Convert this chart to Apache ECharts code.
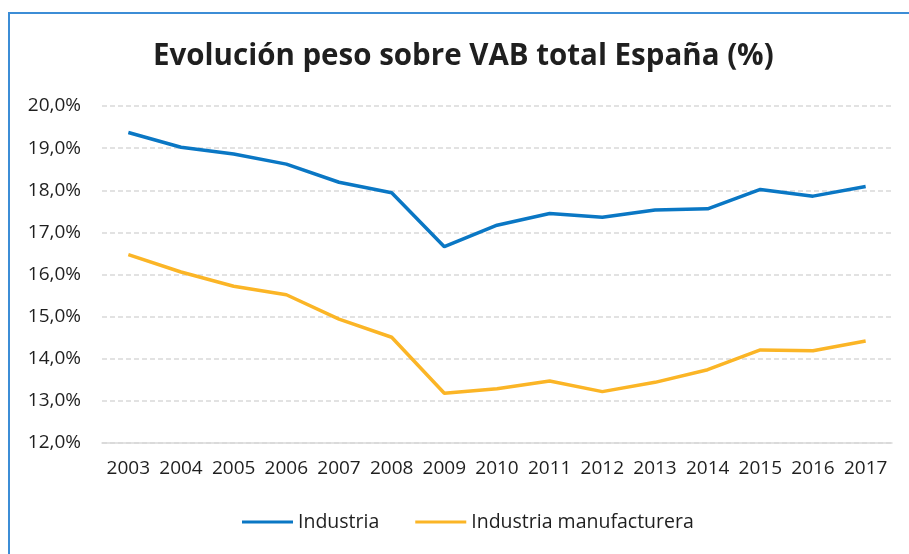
<!DOCTYPE html>
<html>
<head>
<meta charset="utf-8">
<script src="https://cdn.jsdelivr.net/npm/echarts@6/dist/echarts.min.js"></script>
<style>
  html, body { margin: 0; padding: 0; background: #fff; }
  #frame { position: absolute; left: 8px; top: 12px; width: 1000px; height: 600px;
           border-left: 2px solid #3C8DD6; border-top: 2px solid #3C8DD6; }
  #main { position: absolute; left: 0; top: 0; width: 909px; height: 554px; }
</style>
</head>
<body>
<div id="frame"></div>
<div id="main"></div>
<script>
// datos
const years = ['2003','2004','2005','2006','2007','2008','2009','2010','2011','2012','2013','2014','2015','2016','2017'];
const industria = [19.37, 19.02, 18.86, 18.62, 18.19, 17.94, 16.66, 17.17, 17.45, 17.36, 17.53, 17.56, 18.02, 17.86, 18.09];
const manufacturera = [16.47, 16.06, 15.72, 15.52, 14.94, 14.51, 13.18, 13.29, 13.47, 13.22, 13.44, 13.74, 14.21, 14.19, 14.42];

const FONT = '"Open Sans", sans-serif';
const TXT = '#1F1F1F';

let myChart = echarts.init(document.getElementById('main'));

let option = {
  animation: false,
  title: {
    text: 'Evolución peso sobre VAB total España (%)',
    left: 148,
    top: 37,
    textStyle: { fontFamily: FONT, fontSize: 29.5, fontWeight: 'bold', color: TXT }
  },
  legend: {
    bottom: 17,
    left: 237,
    itemWidth: 51,
    itemHeight: 3,
    itemGap: 36,
    icon: 'rect',
    textStyle: { fontFamily: FONT, fontSize: 19.5, color: TXT },
    data: ['Industria', 'Industria manufacturera']
  },
  grid: { left: 102, right: 17, top: 106, bottom: 111 },
  xAxis: {
    type: 'category',
    data: years,
    boundaryGap: true,
    axisLine: { lineStyle: { color: '#D9D9D9', width: 1.5 } },
    axisTick: { show: false },
    axisLabel: { fontFamily: FONT, fontSize: 19, color: TXT, margin: 16, interval: 0 }
  },
  yAxis: {
    type: 'value',
    min: 12,
    max: 20,
    interval: 1,
    axisLine: { show: false },
    axisTick: { show: false },
    splitLine: { lineStyle: { color: '#D9D9D9', type: [5, 3], width: 1.5 } },
    axisLabel: {
      fontFamily: FONT, fontSize: 19, color: TXT, margin: 21,
      formatter: v => v.toFixed(1).replace('.', ',') + '%'
    }
  },
  series: [
    {
      name: 'Industria',
      type: 'line',
      data: industria,
      symbol: 'none',
      lineStyle: { width: 3.5, color: '#0A77C4' },
      itemStyle: { color: '#0A77C4' }
    },
    {
      name: 'Industria manufacturera',
      type: 'line',
      data: manufacturera,
      symbol: 'none',
      lineStyle: { width: 3.5, color: '#FBB526' },
      itemStyle: { color: '#FBB526' }
    }
  ]
};
myChart.setOption(option);
</script>
</body>
</html>
